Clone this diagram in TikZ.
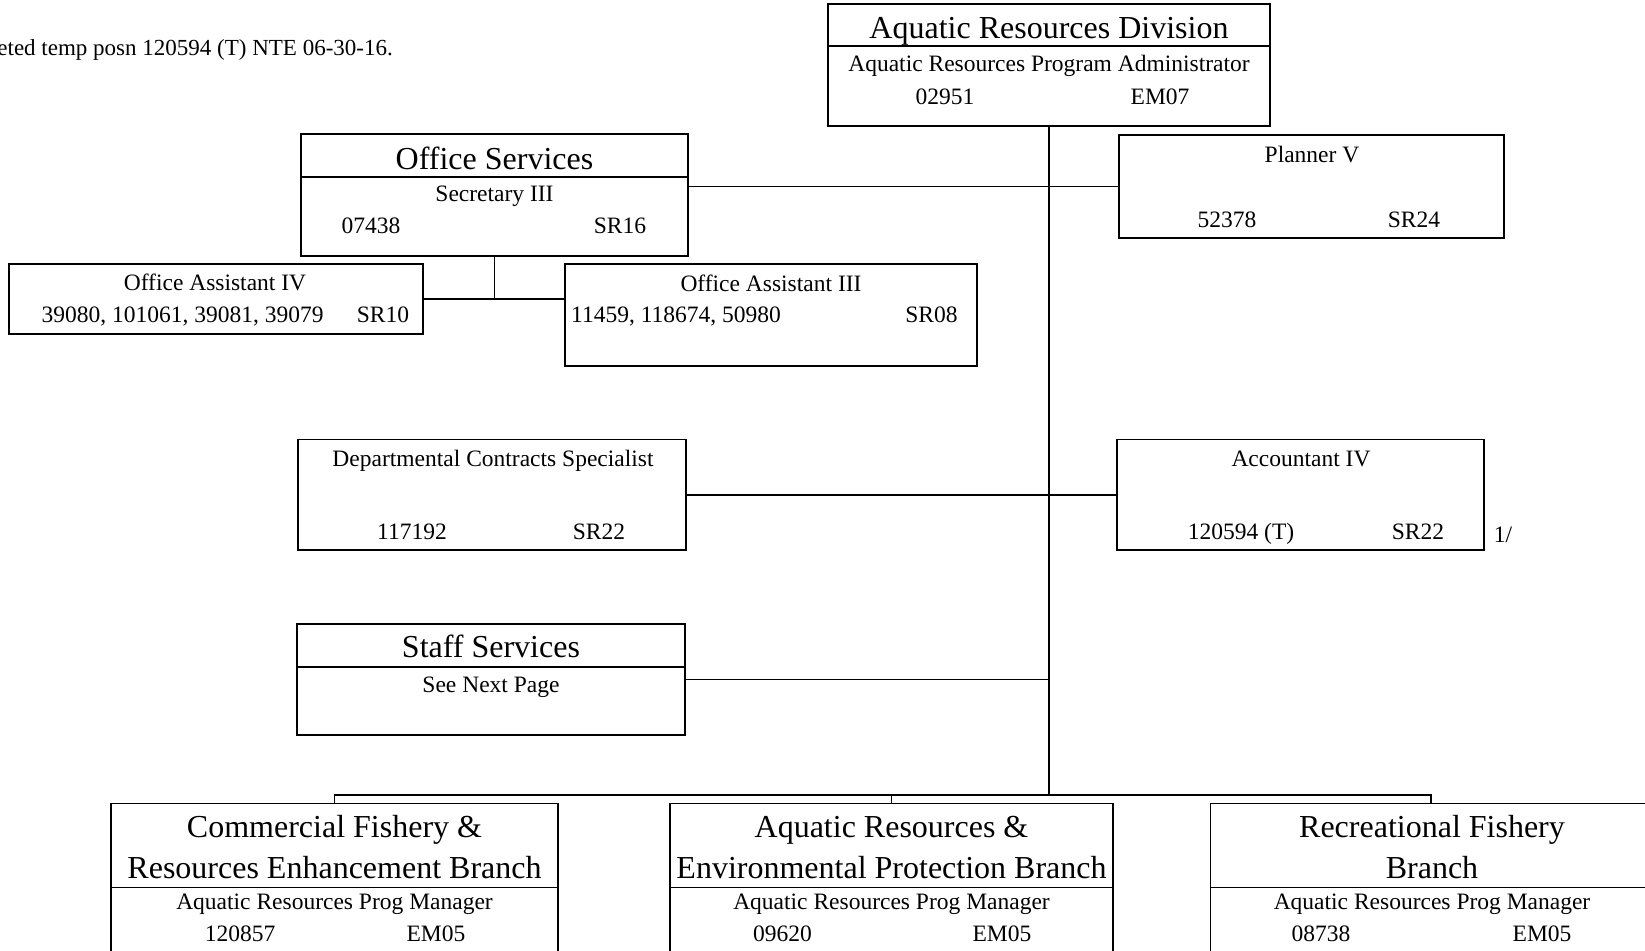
\documentclass[tikz,border=0pt]{standalone}
\usepackage{fontspec}
\setmainfont{Liberation Serif}
\tikzset{
  box/.style={draw, line width=1.5pt, inner sep=0pt, rectangle},
  conn/.style={line width=1.5pt},
  big/.style={font=\fontsize{32}{37}\selectfont, inner sep=0pt, anchor=base},
  small/.style={font=\fontsize{23.5}{27}\selectfont, inner sep=0pt, anchor=base},
}
\begin{document}
\begin{tikzpicture}[x=1pt,y=-1pt]
\useasboundingbox (0,0) rectangle (1645,950);
\clip (0,0) rectangle (1645,950);
\fill[white] (0,0) rectangle (1645,950);

% note
\node[small, font=\fontsize{23}{27}\selectfont, anchor=base east] (note) at (393,56) {eted temp posn 120594 (T) NTE 06-30-16.};

% boxes
\node[box, minimum width=442pt, minimum height=122pt] (ard) at (1049,65) {};
\node[box, minimum width=387pt, minimum height=122pt] (os) at (494.5,195) {};
\node[box, minimum width=385pt, minimum height=103pt] (pl) at (1311.5,186.5) {};
\node[box, minimum width=414pt, minimum height=70pt] (oa4) at (216,299) {};
\node[box, minimum width=412pt, minimum height=102pt] (oa3) at (771,315) {};
\node[box, minimum width=388pt, minimum height=110.5pt] (dcs) at (492,494.75) {};
\node[box, minimum width=367pt, minimum height=110.5pt] (acc) at (1300.5,494.75) {};
\node[box, minimum width=388pt, minimum height=111pt] (ss) at (491,679.5) {};
\node[box, minimum width=447pt, minimum height=161.5pt] (cf) at (334.5,884.25) {};
\node[box, minimum width=443pt, minimum height=161.5pt] (ar) at (891.5,884.25) {};
\node[box, minimum width=441pt, minimum height=161.5pt] (rf) at (1431,884.25) {};

% dividers
\draw[conn] (ard.west |- 0,46) -- (ard.east |- 0,46);
\draw[conn] (os.west |- 0,177) -- (os.east |- 0,177);
\draw[conn] (ss.west |- 0,667) -- (ss.east |- 0,667);
\draw[conn] (cf.west |- 0,887.5) -- (cf.east |- 0,887.5);
\draw[conn] (ar.west |- 0,887.5) -- (ar.east |- 0,887.5);
\draw[conn] (rf.west |- 0,887.5) -- (rf.east |- 0,887.5);

% texts
\node[big] (t1) at (1049,38.8) {Aquatic Resources Division};
\node[small] (t2) at (1049,71.8) {Aquatic Resources Program Administrator};
\node[small] (t3) at (945,104.3) {02951};
\node[small] (t4) at (1160,104.3) {EM07};

\node[big] (t5) at (494.5,169) {Office Services};
\node[small] (t6) at (494.5,201.8) {Secretary III};
\node[small] (t7) at (371,233.3) {07438};
\node[small] (t8) at (620,233.3) {SR16};

\node[small] (t9) at (1312,162) {Planner V};
\node[small] (t10) at (1227,227) {52378};
\node[small] (t11) at (1414,227) {SR24};

\node[small] (t12) at (215,290) {Office Assistant IV};
\node[small] (t13) at (182.5,322.5) {39080, 101061, 39081, 39079};
\node[small] (t14) at (383,322.5) {SR10};

\node[small] (t15) at (771,291) {Office Assistant III};
\node[small, anchor=base west] (t16) at (571,322.5) {11459, 118674, 50980};
\node[small] (t17) at (931.5,322.5) {SR08};

\node[small] (t18) at (493,466.2) {Departmental Contracts Specialist};
\node[small] (t19) at (412,539.6) {117192};
\node[small] (t20) at (599,539.6) {SR22};

\node[small] (t21) at (1301,466.2) {Accountant IV};
\node[small] (t22) at (1241,539.6) {120594 (T)};
\node[small] (t23) at (1418,539.6) {SR22};
\node[small] (t24) at (1503,542.8) {1/};

\node[big] (t25) at (491,657.7) {Staff Services};
\node[small] (t26) at (491,692.8) {See Next Page};

\node[big] (t27) at (334.5,837.1) {Commercial Fishery \&};
\node[big] (t28) at (334.5,878) {Resources Enhancement Branch};
\node[small] (t29) at (334.5,909.9) {Aquatic Resources Prog Manager};
\node[small] (t30) at (240,941.4) {120857};
\node[small] (t31) at (436,941.4) {EM05};

\node[big] (t32) at (891.5,837.1) {Aquatic Resources \&};
\node[big] (t33) at (891.5,878) {Environmental Protection Branch};
\node[small] (t34) at (891.5,909.9) {Aquatic Resources Prog Manager};
\node[small] (t35) at (782.5,941.4) {09620};
\node[small] (t36) at (1002,941.4) {EM05};

\node[big] (t37) at (1432,837.1) {Recreational Fishery};
\node[big] (t38) at (1432,878) {Branch};
\node[small] (t39) at (1432,909.9) {Aquatic Resources Prog Manager};
\node[small] (t40) at (1321,941.4) {08738};
\node[small] (t41) at (1542,941.4) {EM05};

% connectors
\coordinate (bus) at (1049,795);
\draw[conn] (ard.south) -- (bus);
\draw[conn] (pl.west) -- (pl.west -| os.east);
\draw[conn] (os.south) -- (os.south |- oa4.east);
\draw[conn] (oa4.east) -- (oa3.west |- oa4.east);
\draw[conn] (acc.west) -- (dcs.east);
\draw[conn] (ss.east) -- (ss.east -| bus);
\draw[conn] (cf.north) -- (cf.north |- bus) -- (rf.north |- bus) -- (rf.north);
\draw[conn] (ar.north) -- (ar.north |- bus);
\end{tikzpicture}
\end{document}
